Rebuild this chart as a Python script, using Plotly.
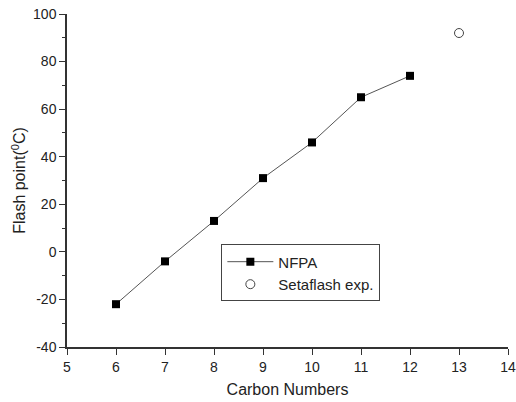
import plotly.graph_objects as go

nfpa_x = [6, 7, 8, 9, 10, 11, 12]
nfpa_y = [-22, -4, 13, 31, 46, 65, 74]
seta_x = [13]
seta_y = [92]
y_ticks = [-40, -20, 0, 20, 40, 60, 80, 100]
y_tick_labels = ["-40", "-20", "0", "20", "40", "60", "80", "100"]

FONT = "Liberation Sans, Arial, sans-serif"

fig = go.Figure()
fig.add_trace(go.Scatter(
    x=nfpa_x, y=nfpa_y, mode="lines+markers", name="NFPA",
    line=dict(color="#555555", width=1),
    marker=dict(symbol="square", size=8, color="black"),
))
fig.add_trace(go.Scatter(
    x=seta_x, y=seta_y, mode="markers", name="Setaflash exp.",
    marker=dict(symbol="circle-open", size=9, color="#444444", line=dict(width=1)),
))

fig.update_layout(
    width=516, height=402,
    margin=dict(l=67, r=8, t=14, b=55, autoexpand=False),
    paper_bgcolor="white", plot_bgcolor="white",
    font=dict(family=FONT, size=14, color="#222222"),
    showlegend=True,
    legend=dict(
        x=0.35, y=0.308, xanchor="left", yanchor="top",
        bordercolor="#444444", borderwidth=1, bgcolor="white",
        font=dict(family=FONT, size=15, color="#222222"),
        tracegroupgap=0, itemwidth=46,
    ),
)
fig.update_xaxes(
    range=[5, 14], tickmode="linear", tick0=5, dtick=1, automargin=False,
    ticklabeloverflow="allow",
    showline=True, linecolor="#333333", linewidth=1.5, mirror=False,
    ticks="outside", ticklen=6, tickcolor="#333333",
    showgrid=False, zeroline=False,
    title=dict(text="Carbon Numbers", font=dict(family=FONT, size=16), standoff=10),
)
fig.update_yaxes(
    range=[-40, 100], tickmode="array", tickvals=y_ticks, ticktext=y_tick_labels,
    automargin=False, ticklabeloverflow="allow",
    showline=True, linecolor="#333333", linewidth=1.5, mirror=False,
    ticks="outside", ticklen=6, tickcolor="#333333",
    minor=dict(ticks="outside", ticklen=3, dtick=10, tick0=-40, tickcolor="#333333"),
    showgrid=False, zeroline=False,
    title=dict(text="Flash point(<sup>0</sup>C)", font=dict(family=FONT, size=16), standoff=3),
)

fig.write_html("out.html", config={"displayModeBar": False},
               post_script="document.body.style.margin='0';")
